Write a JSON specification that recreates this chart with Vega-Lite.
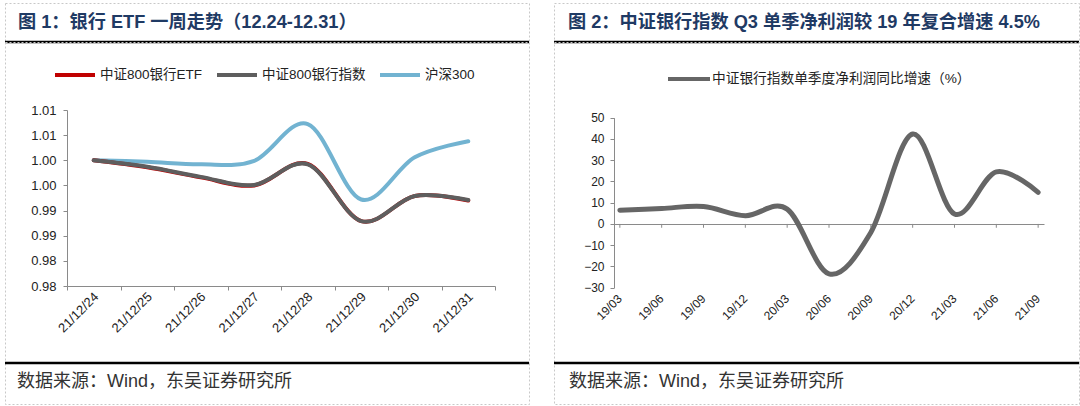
{
  "$schema": "https://vega.github.io/schema/vega-lite/v6.json",
  "padding": {"left": 3, "top": 2, "right": 2, "bottom": 2},
  "background": "white",
  "columns": 2,
  "spacing": {"row": 0, "column": 25},
  "bounds": "flush",
  "resolve": {"scale": {"color": "independent", "x": "independent", "y": "independent"}, "legend": {"color": "independent"}},
  "config": {
    "view": {"stroke": "#c8c8c8", "strokeDash": [2, 2], "strokeWidth": 1},
    "font": "Liberation Sans, Noto Sans CJK SC",
    "axis": {"domainColor": "#8a8a8a", "tickColor": "#8a8a8a", "labelColor": "#222222", "grid": false, "labelFont": "Liberation Sans, Noto Sans CJK SC", "tickSize": 4}
  },
  "datasets": {
    "etf": [
      {"date": "21/12/24", "series": "沪深300", "v": 1.0050},
      {"date": "21/12/25", "series": "沪深300", "v": 1.0047},
      {"date": "21/12/26", "series": "沪深300", "v": 1.0042},
      {"date": "21/12/27", "series": "沪深300", "v": 1.0049},
      {"date": "21/12/28", "series": "沪深300", "v": 1.0122},
      {"date": "21/12/29", "series": "沪深300", "v": 0.9972},
      {"date": "21/12/30", "series": "沪深300", "v": 1.0056},
      {"date": "21/12/31", "series": "沪深300", "v": 1.0088},
      {"date": "21/12/24", "series": "中证800银行ETF", "v": 1.0050},
      {"date": "21/12/25", "series": "中证800银行ETF", "v": 1.0036},
      {"date": "21/12/26", "series": "中证800银行ETF", "v": 1.0016},
      {"date": "21/12/27", "series": "中证800银行ETF", "v": 1.0000},
      {"date": "21/12/28", "series": "中证800银行ETF", "v": 1.0043},
      {"date": "21/12/29", "series": "中证800银行ETF", "v": 0.9929},
      {"date": "21/12/30", "series": "中证800银行ETF", "v": 0.9979},
      {"date": "21/12/31", "series": "中证800银行ETF", "v": 0.9970},
      {"date": "21/12/24", "series": "中证800银行指数", "v": 1.0050},
      {"date": "21/12/25", "series": "中证800银行指数", "v": 1.0037},
      {"date": "21/12/26", "series": "中证800银行指数", "v": 1.0017},
      {"date": "21/12/27", "series": "中证800银行指数", "v": 1.0001},
      {"date": "21/12/28", "series": "中证800银行指数", "v": 1.0042},
      {"date": "21/12/29", "series": "中证800银行指数", "v": 0.9929},
      {"date": "21/12/30", "series": "中证800银行指数", "v": 0.9979},
      {"date": "21/12/31", "series": "中证800银行指数", "v": 0.9971}
    ],
    "profit": [
      {"q": "19/03", "s": "中证银行指数单季度净利润同比增速（%）", "v": 6.5},
      {"q": "19/06", "s": "中证银行指数单季度净利润同比增速（%）", "v": 7.3},
      {"q": "19/09", "s": "中证银行指数单季度净利润同比增速（%）", "v": 8.2},
      {"q": "19/12", "s": "中证银行指数单季度净利润同比增速（%）", "v": 3.9},
      {"q": "20/03", "s": "中证银行指数单季度净利润同比增速（%）", "v": 7.0},
      {"q": "20/06", "s": "中证银行指数单季度净利润同比增速（%）", "v": -23.5},
      {"q": "20/09", "s": "中证银行指数单季度净利润同比增速（%）", "v": -4.0},
      {"q": "20/12", "s": "中证银行指数单季度净利润同比增速（%）", "v": 42.3},
      {"q": "21/03", "s": "中证银行指数单季度净利润同比增速（%）", "v": 4.7},
      {"q": "21/06", "s": "中证银行指数单季度净利润同比增速（%）", "v": 24.5},
      {"q": "21/09", "s": "中证银行指数单季度净利润同比增速（%）", "v": 14.9}
    ]
  },
  "concat": [
    {
      "width": 524, "height": 39,
      "data": {"values": [{"t": "图 1：银行 ETF 一周走势（12.24-12.31）"}]},
      "layer": [
        {"mark": {"type": "text", "align": "left", "baseline": "middle", "dx": 13, "fontSize": 18.2, "fontWeight": "bold", "color": "#1F3A64", "font": "Liberation Sans, Noto Sans CJK SC"},
         "encoding": {
           "x": {"datum": 0, "type": "quantitative", "scale": {"domain": [0, 1]}, "axis": null},
           "y": {"datum": 0.5, "type": "quantitative", "scale": {"domain": [0, 1]}, "axis": null},
           "text": {"field": "t"}}},
        {"mark": {"type": "rule", "color": "#000000", "strokeWidth": 2.5},
         "encoding": {"y": {"datum": 0, "type": "quantitative"}}}
      ]
    },
    {
      "width": 525, "height": 39,
      "data": {"values": [{"t": "图 2：中证银行指数 Q3 单季净利润较 19 年复合增速 4.5%"}]},
      "layer": [
        {"mark": {"type": "text", "align": "left", "baseline": "middle", "dx": 14, "fontSize": 18.2, "fontWeight": "bold", "color": "#1F3A64", "font": "Liberation Sans, Noto Sans CJK SC"},
         "encoding": {
           "x": {"datum": 0, "type": "quantitative", "scale": {"domain": [0, 1]}, "axis": null},
           "y": {"datum": 0.5, "type": "quantitative", "scale": {"domain": [0, 1]}, "axis": null},
           "text": {"field": "t"}}},
        {"mark": {"type": "rule", "color": "#000000", "strokeWidth": 2.5},
         "encoding": {"y": {"datum": 0, "type": "quantitative"}}}
      ]
    },
    {
      "width": 524, "height": 321,
      "data": {"name": "etf"},
      "encoding": {
        "x": {"field": "date", "type": "ordinal", "sort": null, "title": null,
              "scale": {"type": "band", "range": [62, 490], "paddingInner": 0, "paddingOuter": 0},
              "axis": {"orient": "bottom", "offset": -77, "labelAngle": -45, "tickBand": "extent", "labelFontSize": 13, "labelPadding": 0, "labelOffset": -2}},
        "y": {"field": "v", "type": "quantitative", "title": null,
              "scale": {"domain": [0.98, 1.015], "range": [244, 68], "zero": false, "nice": false},
              "axis": {"orient": "left", "offset": -62, "values": [0.98, 0.985, 0.99, 0.995, 1.0, 1.005, 1.01, 1.015], "format": ".2f", "labelFontSize": 13, "labelPadding": 7}},
        "color": {"field": "series", "type": "nominal",
                  "scale": {"domain": ["中证800银行ETF", "中证800银行指数", "沪深300"], "range": ["#C00000", "#5E5E5E", "#72B3D1"]},
                  "legend": {"orient": "none", "legendX": 48, "legendY": 11, "direction": "horizontal", "title": null, "symbolType": "stroke", "symbolSize": 1600, "symbolStrokeWidth": 4, "labelFontSize": 13.5, "labelOffset": 3, "columnPadding": 6, "labelLimit": 400, "labelFont": "Liberation Sans, Noto Sans CJK SC", "labelColor": "#222222", "padding": 0}}
      },
      "layer": [
        {"transform": [{"filter": "datum.series === '沪深300'"}],
         "mark": {"type": "line", "interpolate": "cardinal", "strokeWidth": 4, "strokeCap": "round"}},
        {"transform": [{"filter": "datum.series === '中证800银行ETF'"}],
         "mark": {"type": "line", "interpolate": "cardinal", "strokeWidth": 4, "strokeCap": "round"}},
        {"transform": [{"filter": "datum.series === '中证800银行指数'"}],
         "mark": {"type": "line", "interpolate": "cardinal", "strokeWidth": 4, "strokeCap": "round"}}
      ]
    },
    {
      "width": 525, "height": 321,
      "data": {"name": "profit"},
      "encoding": {
        "x": {"field": "q", "type": "ordinal", "sort": null, "title": null,
              "scale": {"type": "point", "range": [60, 490], "padding": 0.14},
              "axis": {"orient": "bottom", "offset": -75.3, "domain": false, "ticks": false, "labelAngle": -45, "labelFontSize": 12, "labelPadding": 5, "labelOffset": -4}},
        "y": {"field": "v", "type": "quantitative", "title": null,
              "scale": {"domain": [-30, 50], "range": [245.7, 75.7], "zero": false, "nice": false},
              "axis": {"orient": "left", "offset": -60, "values": [-30, -20, -10, 0, 10, 20, 30, 40, 50], "labelFontSize": 12, "labelPadding": 6,
                       "grid": true, "gridColor": {"condition": {"test": "datum.value === 0", "value": "#8a8a8a"}, "value": "rgba(0,0,0,0)"}}}
      },
      "layer": [
        {"mark": {"type": "line", "interpolate": "cardinal", "strokeWidth": 5, "strokeCap": "round"},
         "encoding": {
           "color": {"field": "s", "type": "nominal",
                     "scale": {"range": ["#666666"]},
                     "legend": {"orient": "none", "legendX": 112, "legendY": 14, "direction": "horizontal", "title": null, "symbolType": "stroke", "symbolSize": 1764, "symbolStrokeWidth": 4, "labelFontSize": 13.7, "labelOffset": 0, "labelLimit": 400, "labelFont": "Liberation Sans, Noto Sans CJK SC", "labelColor": "#222222", "padding": 0}}
         }},
        {"mark": {"type": "rule", "color": "#8a8a8a", "strokeWidth": 1},
         "encoding": {"y": {"datum": 0, "type": "quantitative"}, "y2": {"datum": -1.8}}}
      ]
    },
    {
      "width": 524, "height": 41,
      "data": {"values": [{"t": "数据来源：Wind，东吴证券研究所"}]},
      "layer": [
        {"mark": {"type": "text", "align": "left", "baseline": "middle", "dx": 12, "fontSize": 18, "color": "#333333", "font": "Liberation Sans, Noto Sans CJK SC"},
         "encoding": {
           "x": {"datum": 0, "type": "quantitative", "scale": {"domain": [0, 1]}, "axis": null},
           "y": {"datum": 0.537, "type": "quantitative", "scale": {"domain": [0, 1]}, "axis": null},
           "text": {"field": "t"}}},
        {"mark": {"type": "rule", "color": "#000000", "strokeWidth": 2.5},
         "encoding": {"y": {"datum": 1, "type": "quantitative"}}}
      ]
    },
    {
      "width": 525, "height": 41,
      "data": {"values": [{"t": "数据来源：Wind，东吴证券研究所"}]},
      "layer": [
        {"mark": {"type": "text", "align": "left", "baseline": "middle", "dx": 15, "fontSize": 18, "color": "#333333", "font": "Liberation Sans, Noto Sans CJK SC"},
         "encoding": {
           "x": {"datum": 0, "type": "quantitative", "scale": {"domain": [0, 1]}, "axis": null},
           "y": {"datum": 0.537, "type": "quantitative", "scale": {"domain": [0, 1]}, "axis": null},
           "text": {"field": "t"}}},
        {"mark": {"type": "rule", "color": "#000000", "strokeWidth": 2.5},
         "encoding": {"y": {"datum": 1, "type": "quantitative"}}}
      ]
    }
  ]
}
